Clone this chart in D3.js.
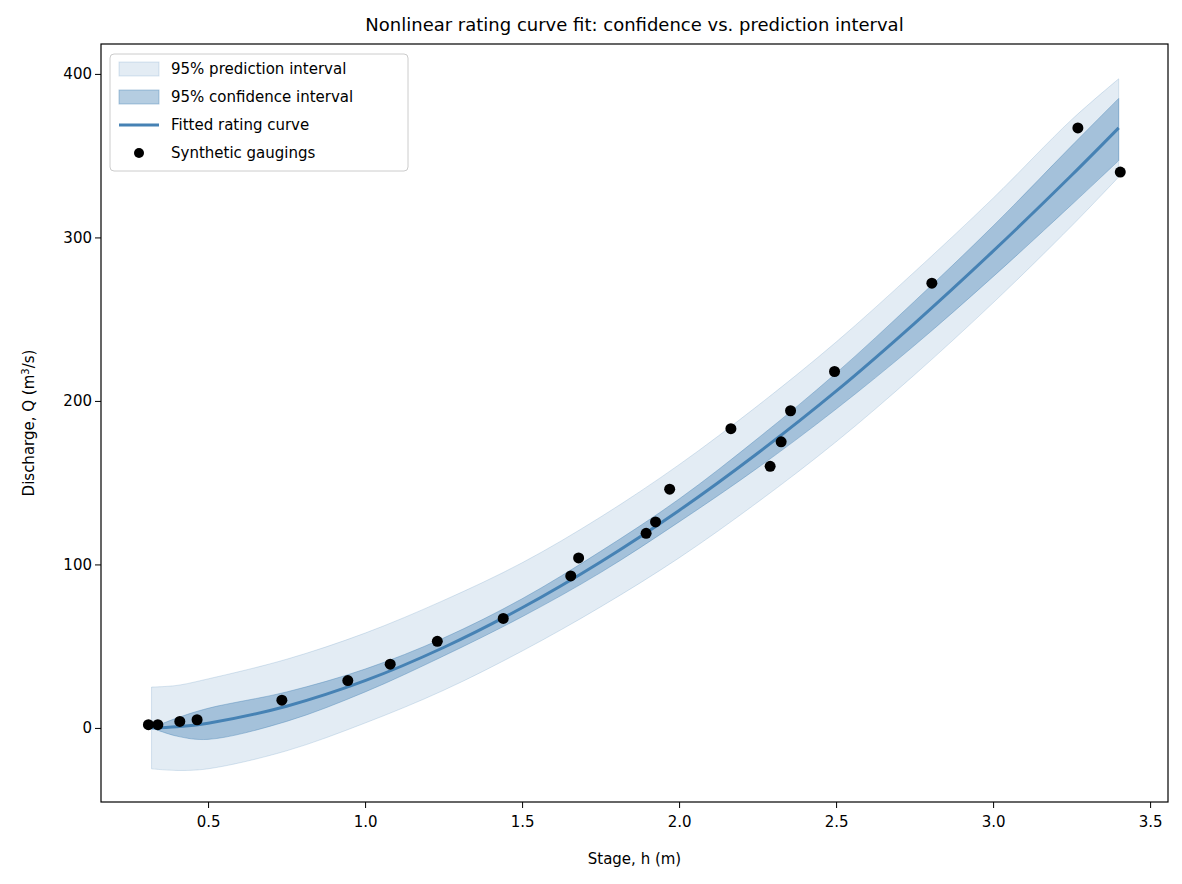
<!DOCTYPE html><html><head><meta charset="utf-8"><script src="https://cdn.jsdelivr.net/npm/d3@7"></script>
<style>body{margin:0;background:#fff}text{font-family:"DejaVu Sans",sans-serif}</style></head><body><svg id="c" width="1182" height="884"></svg><script>
const gaugeH=[0.31,0.34,0.41,0.465,0.735,0.945,1.08,1.23,1.44,1.655,1.68,1.895,1.925,1.97,2.165,2.29,2.325,2.355,2.495,2.805,3.27,3.405];
const gaugeQ=[2,2,4,5,17,29,39,53,67,93,104,119,126,146,183,160,175,194,218,272,367,340];
const curveH=[0.32,0.4,0.5,0.75,1.0,1.25,1.5,1.75,2.0,2.25,2.5,2.75,3.0,3.25,3.4];
const fitQ=[0,0.7,2.9,13.3,28.9,49.2,73.5,101.5,133,168,206,247.5,291.6,338,367];
const ciLo=[0,-5,-7,4,22,44,68,95,126,159,195,234,276,320,347];
const ciHi=[0,6,12,22,36,55,79,108,140,177,217,261,307,356,385];
const piLo=[-25,-26,-25,-14,3,23,47,74,104,138,175,216,260,307,337];
const piHi=[25,26,30,42,58,78,101,129,161,197,236,279,324,372,397];
const xTicks=[0.5,1.0,1.5,2.0,2.5,3.0,3.5], yTicks=[0,100,200,300,400];
const svg=d3.select("#c");
const L=101,R=1168,T=44,B=802;
const x=d3.scaleLinear().domain([0.159,3.557]).range([L,R]);
const y=d3.scaleLinear().domain([-45.3,418.3]).range([B,T]);
const idx=d3.range(curveH.length);
const cv=d3.curveCatmullRom.alpha(0.5);
const area=(lo,hi)=>d3.area().x(i=>x(curveH[i])).y0(i=>y(lo[i])).y1(i=>y(hi[i])).curve(cv)(idx);
svg.append("path").attr("d",area(piLo,piHi)).attr("fill","#4682b4").attr("fill-opacity",0.15).attr("stroke","#4682b4").attr("stroke-opacity",0.2);
svg.append("path").attr("d",area(ciLo,ciHi)).attr("fill","#4682b4").attr("fill-opacity",0.4).attr("stroke","#4682b4").attr("stroke-opacity",0.4);
svg.append("path").attr("d",d3.line().x(i=>x(curveH[i])).y(i=>y(fitQ[i])).curve(cv)(idx)).attr("fill","none").attr("stroke","#4682b4").attr("stroke-width",3);
svg.selectAll("circle.g").data(d3.range(gaugeH.length)).join("circle").attr("cx",i=>x(gaugeH[i])).attr("cy",i=>y(gaugeQ[i])).attr("r",5.5).attr("fill","#000");
svg.append("rect").attr("x",L).attr("y",T).attr("width",R-L).attr("height",B-T).attr("fill","none").attr("stroke","#000").attr("stroke-width",1.2);
const xa=svg.append("g").attr("transform",`translate(0,${B})`).call(d3.axisBottom(x).tickValues(xTicks).tickFormat(d3.format(".1f")).tickSizeOuter(0).tickSize(6));
const ya=svg.append("g").attr("transform",`translate(${L},0)`).call(d3.axisLeft(y).tickValues(yTicks).tickSizeOuter(0).tickSize(6));
[xa,ya].forEach(a=>{a.select(".domain").remove();a.selectAll("text").attr("font-size",15).attr("fill","#000").style("font-family","DejaVu Sans");});
xa.selectAll("text").attr("dy","1.05em");
svg.append("text").attr("x",(L+R)/2).attr("y",864).attr("text-anchor","middle").attr("font-size",15).text("Stage, h (m)");
svg.append("text").attr("transform",`translate(34,${(T+B)/2}) rotate(-90)`).attr("text-anchor","middle").attr("font-size",15).html('Discharge, Q (m<tspan baseline-shift="super" font-size="10">3</tspan>/s)');
svg.append("text").attr("x",(L+R)/2).attr("y",31).attr("text-anchor","middle").attr("font-size",18).text("Nonlinear rating curve fit: confidence vs. prediction interval");
const lg=svg.append("g");
lg.append("rect").attr("x",110).attr("y",54).attr("width",298).attr("height",117).attr("rx",4).attr("fill","#fff").attr("fill-opacity",0.8).attr("stroke","#ccc");
const items=[["95% prediction interval","pi"],["95% confidence interval","ci"],["Fitted rating curve","ln"],["Synthetic gaugings","pt"]];
items.forEach(([t,k],j)=>{const cy=69+j*28;
 if(k=="pi")lg.append("rect").attr("x",119).attr("y",cy-7).attr("width",40).attr("height",14).attr("fill","#4682b4").attr("fill-opacity",0.15).attr("stroke","#4682b4").attr("stroke-opacity",0.2);
 if(k=="ci")lg.append("rect").attr("x",119).attr("y",cy-7).attr("width",40).attr("height",14).attr("fill","#4682b4").attr("fill-opacity",0.4).attr("stroke","#4682b4").attr("stroke-opacity",0.4);
 if(k=="ln")lg.append("line").attr("x1",119).attr("x2",159).attr("y1",cy).attr("y2",cy).attr("stroke","#4682b4").attr("stroke-width",3);
 if(k=="pt")lg.append("circle").attr("cx",139).attr("cy",cy).attr("r",5).attr("fill","#000");
 lg.append("text").attr("x",171).attr("y",cy+5).attr("font-size",15).text(t);});
</script></body></html>
